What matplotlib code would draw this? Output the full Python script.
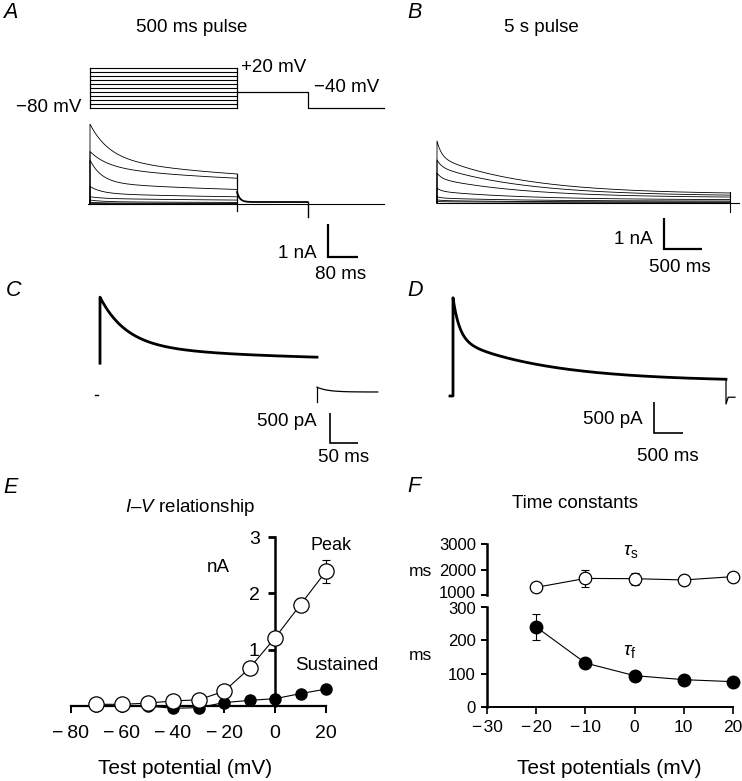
import numpy as np
import matplotlib
matplotlib.use("Agg")
import matplotlib.pyplot as plt
from matplotlib.transforms import ScaledTranslation

W, H = 742, 781
plt.rcParams['font.family'] = ['Liberation Sans', 'DejaVu Sans']
plt.rcParams['mathtext.fontset'] = 'custom'
plt.rcParams['mathtext.it'] = 'Liberation Sans:italic'
plt.rcParams['mathtext.rm'] = 'Liberation Sans'
plt.rcParams['mathtext.sf'] = 'Liberation Sans'

# ---------------- data ----------------
# Panel A: voltage protocol (mV, ms)
A_hold_mV = -80
A_test_mV = [-70, -60, -50, -40, -30, -20, -10, 0, 10, 20]
A_tail_mV = -40
A_pulse_ms = 500
A_tail_end_ms = 740
A_trace_end_ms = 1000
# Panel A currents (nA): sustained level, slow amplitude, fast amplitude, fast tau (ms)
A_C = [0.54, 0.52, 0.28, 0.14, 0.08, 0.03, 0.01, 0.0]
A_As = [0.85, 0.60, 0.37, 0.18, 0.09, 0.04, 0.02, 0.01]
A_Af = [1.03, 0.47, 0.68, 0.21, 0.05, 0.05, 0.02, 0.01]
A_tf = [65, 60, 40, 40, 40, 40, 40, 40]
A_ts = 600
A_tail_nA = [0.06, 0.30]          # steady, transient
A_artifact_nA = [-0.2, -0.4]      # capacitive artifacts at pulse end / tail end

# Panel B: 5 s pulse currents
B_pulse_ms = 5000
B_C = [0.28, 0.22, 0.17, 0.10, 0.06, 0.03, 0.02]
B_As = [1.20, 0.95, 0.62, 0.28, 0.10, 0.05, 0.02]
B_Af = [0.52, 0.22, 0.18, 0.10, 0.04, 0.02, 0.01]
B_tf = 80
B_ts = 1500

# Panel C: single 500 ms trace (nA)
C_onset = 0.53
C_C, C_Af, C_tf, C_As, C_ts = 0.55, 0.80, 60, 0.28, 400
C_tail = [-0.12, 0.13, 0.05]

# Panel D: single 5 s trace (nA)
D_C, D_As, D_ts, D_Af, D_tf = 0.234, 0.68, 1700, 0.67, 120
D_tail = [-0.13, -0.02]

# Panel E: I-V
E_V = [-70, -60, -50, -40, -30, -20, -10, 0, 10, 20]
E_peak = [0.03, 0.03, 0.05, 0.09, 0.11, 0.26, 0.67, 1.21, 1.80, 2.39]
E_peak_err = [0, 0, 0, 0, 0, 0, 0.03, 0.05, 0.12, 0.20]
E_sus = [0.0, 0.0, 0.0, -0.04, -0.03, 0.06, 0.10, 0.13, 0.22, 0.30]
E_xticks = [-80, -60, -40, -20, 0, 20]
E_yticks = [1, 2, 3]

# Panel F: time constants
F_V = [-20, -10, 0, 10, 20]
F_tau_s = [1300, 1650, 1640, 1590, 1720]
F_tau_s_err = [0, 330, 240, 0, 0]
F_tau_f = [240, 132, 94, 82, 76]
F_tau_f_err = [38, 12, 0, 0, 0]
F_xticks = [-30, -20, -10, 0, 10, 20]

# ---------------- helpers ----------------
fig = plt.figure(figsize=(W / 100, H / 100), dpi=100)


def px_axes(box, xmap, ymap):
    l, t, r, b = box
    ax = fig.add_axes([l / W, 1 - b / H, (r - l) / W, (b - t) / H])
    sx = (xmap[3] - xmap[1]) / (xmap[2] - xmap[0])
    ax.set_xlim(xmap[0] + (l - xmap[1]) / sx, xmap[0] + (r - xmap[1]) / sx)
    sy = (ymap[3] - ymap[1]) / (ymap[2] - ymap[0])
    ax.set_ylim(ymap[0] + (b - ymap[1]) / sy, ymap[0] + (t - ymap[1]) / sy)
    ax.set_axis_off()
    ax.patch.set_alpha(0)
    return ax


def T(x, y, s, ha='left', va='center', size=13, **kw):
    fig.text(x / W, 1 - y / H, s, ha=ha, va=va, fontsize=size, **kw)


def scalebar(ax, t0, i0, dt, di, lw=1.6):
    ax.plot([t0, t0, t0 + dt], [i0 + di, i0, i0], color='k', lw=lw,
            solid_joinstyle='miter', solid_capstyle='butt')


def fmt(v, sp='\u2009'):
    return ('\u2212' + sp + str(abs(v))) if v < 0 else str(v)


K = 'k'
PS = 13.5   # panel text size
LS = 15.5   # panel letter size

# ---------------- Panel A ----------------
axV = px_axes((0, 50, 400, 120), (0, 90, 500, 237), (-80, 108, 20, 68))
for v in [A_hold_mV] + A_test_mV:
    axV.plot([0, A_pulse_ms], [v, v], color=K, lw=0.8)
axV.plot([0, 0], [A_hold_mV, max(A_test_mV)], color=K, lw=0.9)
axV.plot([A_pulse_ms, A_pulse_ms], [A_hold_mV, max(A_test_mV)], color=K, lw=0.9)
axV.plot([A_pulse_ms, A_tail_end_ms, A_tail_end_ms, A_trace_end_ms],
         [A_tail_mV, A_tail_mV, A_hold_mV, A_hold_mV], color=K, lw=0.9)

axA = px_axes((0, 110, 400, 265), (0, 90, 500, 237), (0, 204, 1, 171))
t = np.linspace(0, A_pulse_ms, 500)
axA.plot([-8, A_trace_end_ms], [0, 0], color=K, lw=0.8)
for c, s_, f, tf in zip(A_C, A_As, A_Af, A_tf):
    I = c + s_ * np.exp(-t / A_ts) + f * np.exp(-t / tf)
    axA.plot(np.r_[0, t], np.r_[0, I], color=K, lw=0.6)
tt = np.linspace(A_pulse_ms, A_tail_end_ms, 200)
It = A_tail_nA[0] + A_tail_nA[1] * np.exp(-(tt - A_pulse_ms) / 10)
axA.plot(tt, It, color=K, lw=1.3)
axA.plot([A_pulse_ms, A_pulse_ms], [A_artifact_nA[0], A_C[0] + A_As[0] * np.exp(-A_pulse_ms / A_ts)],
         color=K, lw=0.9)
axA.plot([A_tail_end_ms, A_tail_end_ms], [A_artifact_nA[1], A_tail_nA[0]], color=K, lw=1.0)
scalebar(axA, 810, -1.6, 102, 1.0)
T(317, 254, '1 nA', ha='right', size=PS)
T(341, 274, '80 ms', ha='center', size=PS)
T(81, 108, '\u221280 mV', ha='right', size=PS)
T(241, 67, '+20 mV', size=PS)
T(314, 87, '\u221240 mV', size=PS)
T(192, 28, '500 ms pulse', ha='center', size=PS)
T(3, 12, 'A', size=LS, style='italic')

# ---------------- Panel B ----------------
axB = px_axes((400, 110, 742, 265), (0, 437, 5000, 730), (0, 203, 1, 172))
tb = np.linspace(0, B_pulse_ms, 1500)
axB.plot([0, 5150], [0, 0], color=K, lw=0.8)
for c, s_, f in zip(B_C, B_As, B_Af):
    I = c + s_ * np.exp(-tb / B_ts) + f * np.exp(-tb / B_tf)
    axB.plot(np.r_[0, tb], np.r_[0, I], color=K, lw=0.6)
axB.plot([B_pulse_ms, B_pulse_ms], [-0.3, 0.35], color=K, lw=0.8)
scalebar(axB, 3874, -1.48, 648, 1.0)
T(653, 240, '1 nA', ha='right', size=PS)
T(680, 267, '500 ms', ha='center', size=PS)
T(541, 28, '5 s pulse', ha='center', size=PS)
T(407, 12, 'B', size=LS, style='italic')

# ---------------- Panel C ----------------
axC = px_axes((60, 280, 385, 470), (0, 100, 500, 317), (0, 395, 1, 335))
tc = np.linspace(0, 500, 500)
Ic = C_C + C_Af * np.exp(-tc / C_tf) + C_As * np.exp(-tc / C_ts)
axC.plot([-11.5, -4.6], [0, 0], color=K, lw=1.0)
axC.plot(np.r_[0, tc], np.r_[C_onset, Ic], color=K, lw=2.0)
tct = np.linspace(500, 640, 100)
Ict = C_tail[2] + (C_tail[1] - C_tail[2]) * np.exp(-(tct - 500) / 25)
axC.plot([500, 500], [C_tail[0], C_tail[1]], color=K, lw=0.9)
axC.plot(tct, Ict, color=K, lw=0.9)
scalebar(axC, 530, -0.8, 64.5, 0.5, lw=1.2)
T(317, 421, '500 pA', ha='right', size=PS)
T(344, 458, '50 ms', ha='center', size=PS)
T(6, 291, 'C', size=LS, style='italic')

# ---------------- Panel D ----------------
axD = px_axes((400, 280, 742, 470), (0, 453, 5000, 726), (0, 396, 1, 334))
td = np.linspace(0, 5000, 1500)
Id = D_C + D_As * np.exp(-td / D_ts) + D_Af * np.exp(-td / D_tf)
axD.plot(np.r_[-55, 0, td], np.r_[0, 0, Id], color=K, lw=2.0)
axD.plot([5000, 5000, 5040, 5165], [Id[-1], D_tail[0], D_tail[1], D_tail[1]], color=K, lw=0.9)
scalebar(axD, 3681, -0.6, 531, 0.5, lw=1.2)
T(643, 419, '500 pA', ha='right', size=PS)
T(668, 456, '500 ms', ha='center', size=PS)
T(407, 291, 'D', size=LS, style='italic')

# ---------------- Panel E ----------------
axE = fig.add_axes([71 / W, 1 - 706 / H, 255 / W, 169 / H])
axE.patch.set_alpha(0)
axE.set_xlim(-80, 20)
axE.set_ylim(0, 3)
for s in ['top', 'right']:
    axE.spines[s].set_visible(False)
axE.spines['left'].set_position(('data', 0))
axE.spines['left'].set_linewidth(1.8)
axE.spines['bottom'].set_linewidth(1.6)
axE.set_xticks(E_xticks)
axE.set_xticklabels([fmt(v) for v in E_xticks])
axE.set_yticks(E_yticks)
axE.tick_params(axis='x', direction='out', length=5, width=1.4, pad=9, labelsize=14)
axE.tick_params(axis='y', direction='out', length=5, width=2.0, pad=6, labelsize=14)
axE.errorbar(E_V, E_peak, yerr=E_peak_err, fmt='none', ecolor=K, elinewidth=0.8,
             capsize=3, capthick=0.8, zorder=2, clip_on=False)
axE.plot(E_V, E_sus, '-o', color=K, lw=0.8, ms=8, mfc=K, mec=K, zorder=3, clip_on=False)
axE.plot(E_V, E_peak, '-o', color=K, lw=0.8, ms=11, mfc='white', mec=K, mew=0.9,
         zorder=4, clip_on=False)
T(190, 508, '$I$\u2013$V$ relationship', ha='center', size=13.5)
T(218, 568, 'nA', ha='center', size=13.5)
T(310, 546, 'Peak', size=13)
T(295, 666, 'Sustained', size=13.5)
T(185, 769, 'Test potential (mV)', ha='center', size=15)
T(3, 488, 'E', size=LS, style='italic')

# ---------------- Panel F ----------------
axF = fig.add_axes([487 / W, 1 - 707 / H, 246 / W, 100 / H])
axF.patch.set_alpha(0)
axF.set_xlim(-30, 20)
axF.set_ylim(0, 300)
for s in ['top', 'right']:
    axF.spines[s].set_visible(False)
axF.spines['left'].set_linewidth(1.8)
axF.spines['bottom'].set_linewidth(1.4)
axF.set_xticks(F_xticks)
axF.set_xticklabels([fmt(v, '\u200a') for v in F_xticks])
axF.set_yticks([0, 100, 200, 300])
axF.tick_params(axis='x', direction='out', length=5, width=1.2, pad=4, labelsize=12.5)
axF.tick_params(axis='y', direction='out', length=4, width=1.4, pad=4, labelsize=12)
axF.errorbar(F_V, F_tau_f, yerr=F_tau_f_err, fmt='none', ecolor=K, elinewidth=0.8,
             capsize=3, capthick=0.8, zorder=2, clip_on=False)
axF.plot(F_V, F_tau_f, '-o', color=K, lw=0.8, ms=9, mfc=K, mec=K, zorder=3, clip_on=False)

axF2 = fig.add_axes([487 / W, 1 - 595 / H, 246 / W, 51 / H])
axF2.patch.set_alpha(0)
axF2.set_xlim(-30, 20)
axF2.set_ylim(1000, 3000)
for s in ['top', 'right', 'bottom']:
    axF2.spines[s].set_visible(False)
axF2.spines['left'].set_linewidth(1.8)
axF2.set_xticks([])
axF2.set_yticks([1000, 2000, 3000])
axF2.tick_params(axis='y', direction='out', length=4, width=1.4, pad=4, labelsize=12)
axF2.errorbar(F_V, F_tau_s, yerr=F_tau_s_err, fmt='none', ecolor=K, elinewidth=0.8,
              capsize=3, capthick=0.8, zorder=2, clip_on=False)
axF2.plot(F_V, F_tau_s, '-o', color=K, lw=0.8, ms=9, mfc='white', mec=K, mew=0.9,
          zorder=3, clip_on=False)

# nudge the two touching tick labels at the axis break apart
fig.canvas.draw()
lab1000 = axF2.get_yticklabels()[0]
lab1000.set_transform(lab1000.get_transform() + ScaledTranslation(0, 2.5 / 100, fig.dpi_scale_trans))
lab300 = axF.get_yticklabels()[-1]
lab300.set_transform(lab300.get_transform() + ScaledTranslation(0, -1.5 / 100, fig.dpi_scale_trans))

T(575, 503, 'Time constants', ha='center', size=13.5)
T(420, 571, 'ms', ha='center', size=12.5)
T(420, 655, 'ms', ha='center', size=12.5)
T(623, 551, r'$\tau_{\mathrm{s}}$', size=14)
T(623, 652, r'$\tau_{\mathrm{f}}$', size=14)
T(609, 769, 'Test potentials (mV)', ha='center', size=15)
T(407, 486, 'F', size=LS, style='italic')

fig.savefig('out.png', dpi=100)
